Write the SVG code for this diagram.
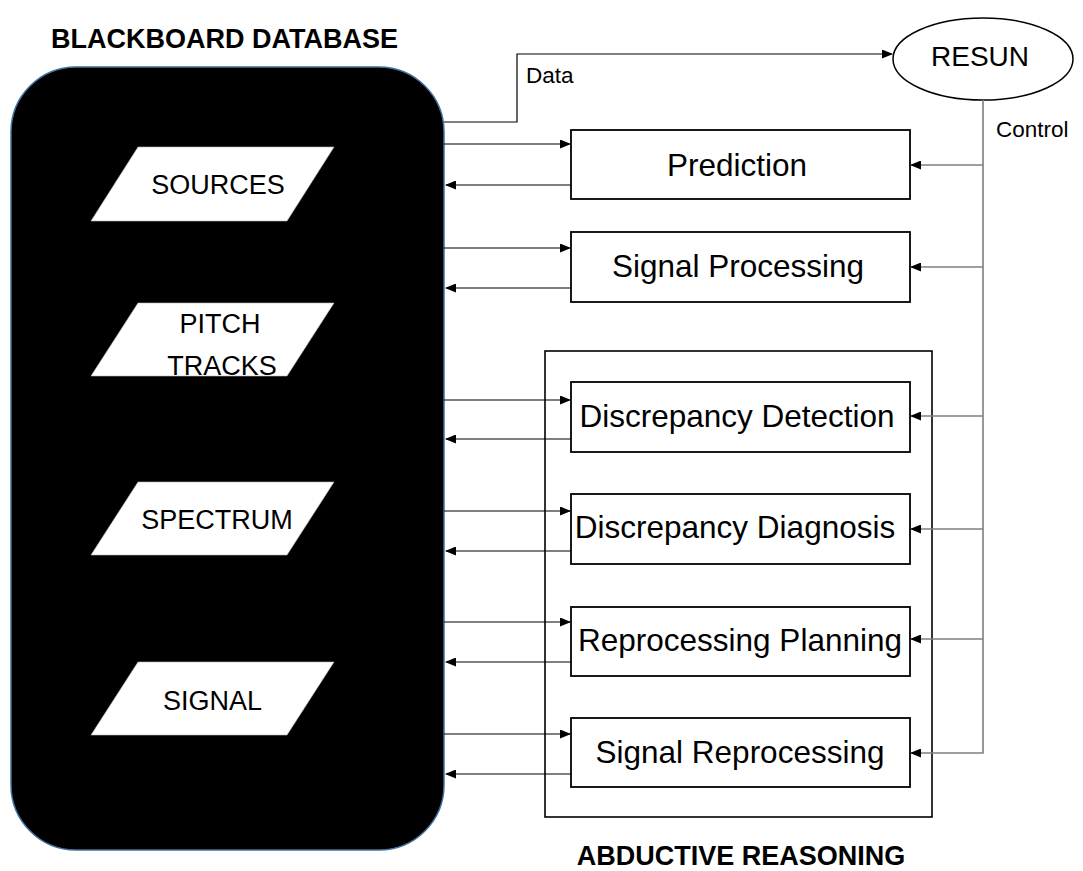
<svg xmlns="http://www.w3.org/2000/svg" width="1083" height="871" viewBox="0 0 1083 871">
<style>
text{font-family:"Liberation Sans",Arial,sans-serif;fill:#000}
.title{font-weight:bold;font-size:27px;text-anchor:middle}
.para{fill:#fff;stroke:#bbb;stroke-width:0.6}
.ptxt{font-size:27px;text-anchor:middle}
.box{fill:#fff;stroke:#000;stroke-width:1.8}
.btxt{font-size:31.5px;text-anchor:middle}
.lbl{font-size:22.5px}
.dl{fill:none;stroke:#000;stroke-width:1.2}
.cl{fill:none;stroke:#7f7f7f;stroke-width:1.6}
</style>
<defs>
<marker id="ah" markerUnits="userSpaceOnUse" markerWidth="11" markerHeight="9" refX="10" refY="4.5" orient="auto">
<path d="M0,0 L11,4.5 L0,9 z" fill="#000"/>
</marker>
</defs>
<rect width="1083" height="871" fill="#fff"/>
<text class="title" x="224.5" y="48">BLACKBOARD DATABASE</text>
<text class="title" x="741" y="865" font-size="28">ABDUCTIVE REASONING</text>
<g id="blackboard">
<rect x="11" y="67" width="433" height="783" rx="65" ry="65" fill="#000" stroke="#41719C" stroke-width="1.5"/>
</g>
<g id="sources">
<polygon class="para" points="138,147 334,147 287,221 91,221"/>
<text class="ptxt" x="218" y="194">SOURCES</text>
</g>
<g id="pitch-tracks">
<polygon class="para" points="138,303 334,303 287,376 91,376"/>
<text class="ptxt" x="220" y="333">PITCH</text>
<text class="ptxt" x="222" y="375">TRACKS</text>
</g>
<g id="spectrum">
<polygon class="para" points="138,482 334,482 287,555 91,555"/>
<text class="ptxt" x="217" y="529">SPECTRUM</text>
</g>
<g id="signal">
<polygon class="para" points="138,662 334,662 287,735 91,735"/>
<text class="ptxt" x="212.5" y="710">SIGNAL</text>
</g>
<g id="resun">
<ellipse cx="983" cy="59" rx="90" ry="41" fill="#fff" stroke="#000" stroke-width="1.5"/>
<text x="980" y="66" font-size="28" text-anchor="middle">RESUN</text>
</g>
<g id="abductive-reasoning">
<rect x="545" y="351" width="387" height="466" fill="#fff" stroke="#000" stroke-width="1.6"/>
</g>
<g id="prediction">
<rect class="box" x="571" y="130" width="339" height="69"/>
<text class="btxt" x="737" y="176">Prediction</text>
</g>
<g id="signal-processing">
<rect class="box" x="571" y="232" width="339" height="70"/>
<text class="btxt" x="738" y="277">Signal Processing</text>
</g>
<g id="discrepancy-detection">
<rect class="box" x="571" y="382" width="339" height="70"/>
<text class="btxt" x="737" y="427">Discrepancy Detection</text>
</g>
<g id="discrepancy-diagnosis">
<rect class="box" x="571" y="494" width="339" height="70"/>
<text class="btxt" x="735" y="538">Discrepancy Diagnosis</text>
</g>
<g id="reprocessing-planning">
<rect class="box" x="571" y="607" width="339" height="69"/>
<text class="btxt" x="740" y="651">Reprocessing Planning</text>
</g>
<g id="signal-reprocessing">
<rect class="box" x="571" y="718" width="339" height="69"/>
<text class="btxt" x="740" y="763">Signal Reprocessing</text>
</g>
<g id="connectors">
<path class="dl" d="M444,122 H517 V54 H892" marker-end="url(#ah)"/>
<text class="lbl" x="526" y="83">Data</text>
<path class="dl" d="M444,144 H570" marker-end="url(#ah)"/>
<path class="dl" d="M571,185 H446" marker-end="url(#ah)"/>
<path class="dl" d="M444,248 H570" marker-end="url(#ah)"/>
<path class="dl" d="M571,288 H446" marker-end="url(#ah)"/>
<path class="dl" d="M444,400 H570" marker-end="url(#ah)"/>
<path class="dl" d="M571,439 H446" marker-end="url(#ah)"/>
<path class="dl" d="M444,511 H570" marker-end="url(#ah)"/>
<path class="dl" d="M571,551 H446" marker-end="url(#ah)"/>
<path class="dl" d="M444,622 H570" marker-end="url(#ah)"/>
<path class="dl" d="M571,662 H446" marker-end="url(#ah)"/>
<path class="dl" d="M444,734 H570" marker-end="url(#ah)"/>
<path class="dl" d="M571,774 H446" marker-end="url(#ah)"/>
<path class="cl" d="M983,100 V753 H911" marker-end="url(#ah)"/>
<text class="lbl" x="996" y="137">Control</text>
<path class="cl" d="M983,165 H911" marker-end="url(#ah)"/>
<path class="cl" d="M983,267 H911" marker-end="url(#ah)"/>
<path class="cl" d="M983,416 H911" marker-end="url(#ah)"/>
<path class="cl" d="M983,529 H911" marker-end="url(#ah)"/>
<path class="cl" d="M983,639 H911" marker-end="url(#ah)"/>
</g>
</svg>
